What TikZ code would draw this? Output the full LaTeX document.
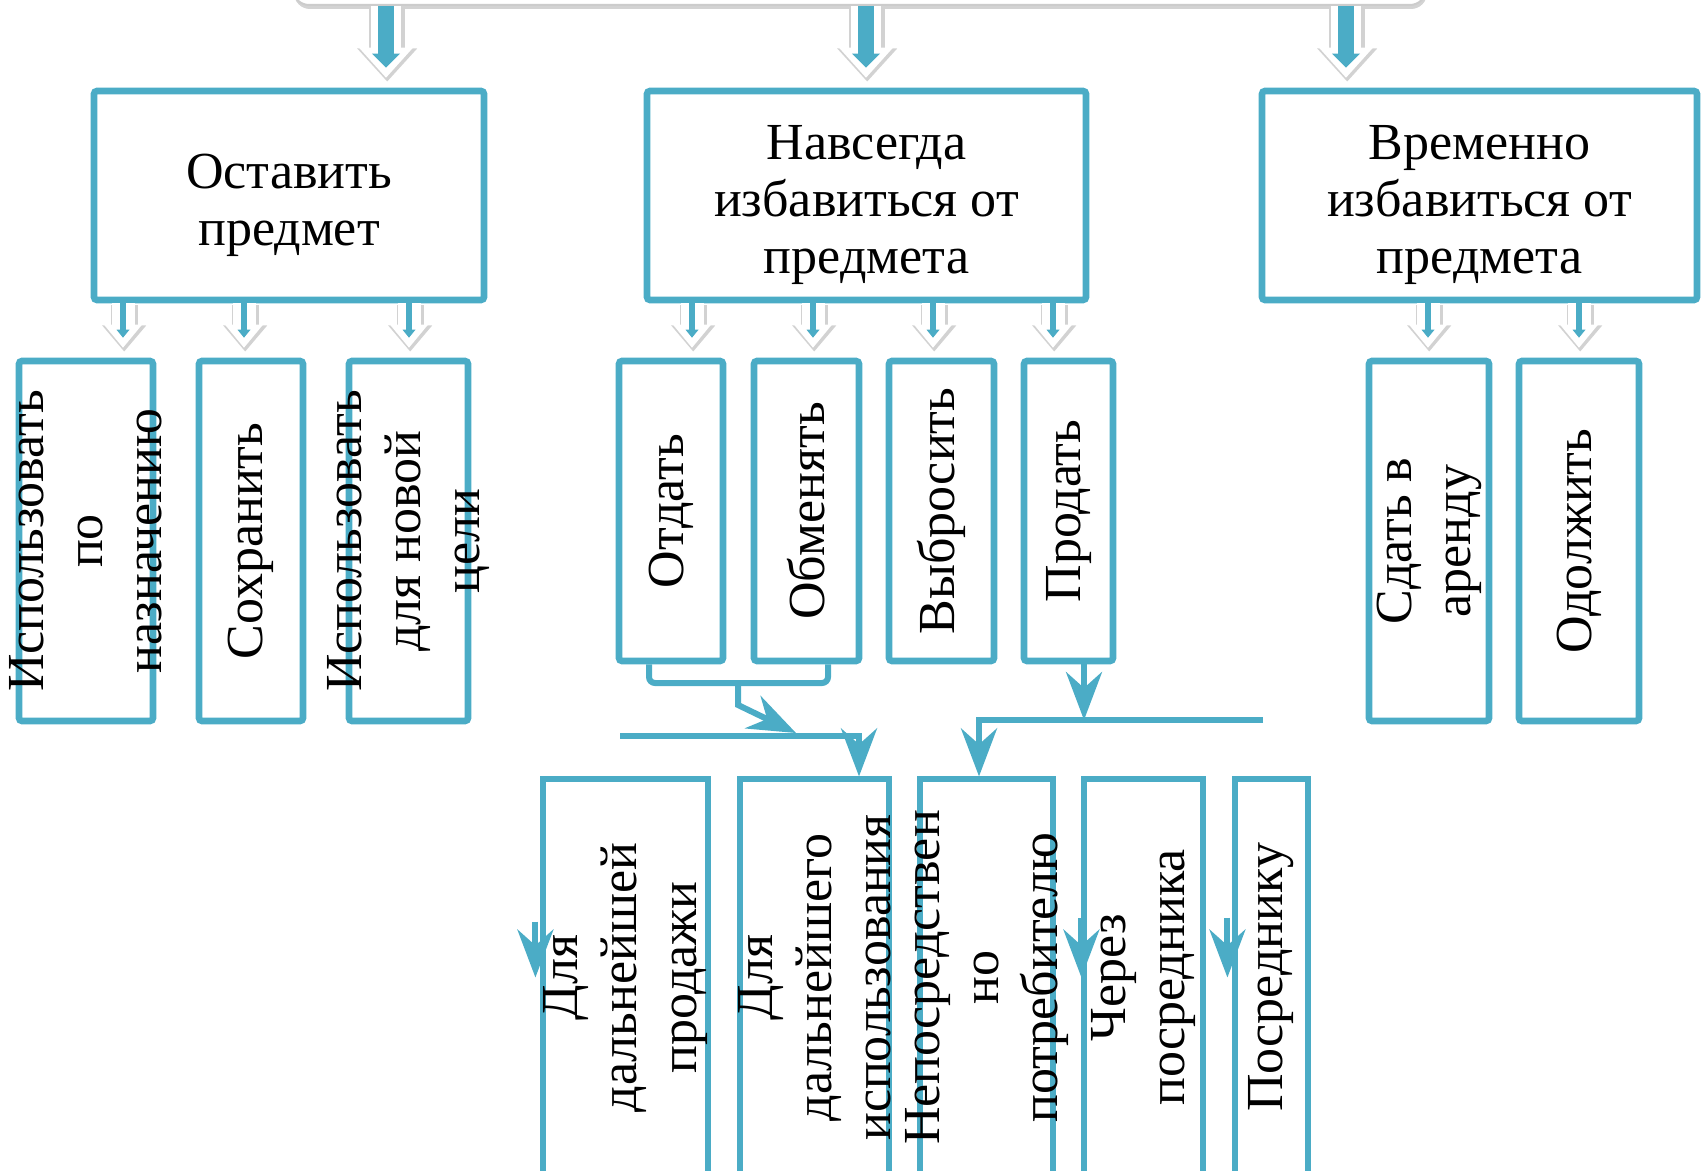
\documentclass[tikz,border=0pt]{standalone}
\usepackage{fontspec}
\setmainfont{Liberation Serif}
\usepackage{tikz}
\usetikzlibrary{positioning, fit, arrows.meta, shadows}
\definecolor{frameblue}{RGB}{75,172,198}
\newcommand{\boxfont}{\fontsize{26}{29.5}\selectfont}
\tikzset{
    topbox/.style={
        draw=gray!40, line width=1pt, fill=white, rounded corners=8pt, inner sep=0pt,
        drop shadow={opacity=0.35, shadow xshift=0.5pt, shadow yshift=-2pt}
    },
    catbox/.style={
        draw=frameblue, line width=3.3pt, rounded corners=1.5pt, inner sep=0pt
    },
    optbox/.style={
        draw=frameblue, line width=3.3pt, rounded corners=1.5pt, inner sep=0pt
    },
    waybox/.style={
        draw=frameblue, line width=2.6pt, inner sep=0pt
    },
    hlabel/.style={
        align=center, inner sep=0pt, yshift=-5pt, font=\fontsize{26}{28.5}\selectfont
    },
    vlabel/.style={
        rotate=90, align=center, inner sep=0pt, font=\boxfont
    },
    link/.style={
        draw=frameblue, line width=3pt
    },
    linkarr/.style={
        link, -{Stealth[length=24pt, width=18pt, inset=8pt]}
    },
    bigshade/.style={draw=gray!35, line width=18pt, -{Triangle[length=16.5pt, width=30pt, line width=0pt]}, shorten >=4pt},
    bigwhite/.style={draw=white, line width=15pt, -{Triangle[length=15pt, width=27pt, line width=0pt]}, shorten >=5pt},
    bigcore/.style={draw=frameblue, line width=8pt, -{Triangle[length=7pt, width=14pt, line width=0pt]}, shorten >=10pt},
    smallshade/.style={draw=gray!35, line width=13.5pt, -{Triangle[length=13pt, width=22pt, line width=0pt]}, shorten >=4pt},
    smallwhite/.style={draw=white, line width=11.5pt, -{Triangle[length=11.5pt, width=19pt, line width=0pt]}, shorten >=5pt},
    smallcore/.style={draw=frameblue, line width=3.3pt, -{Triangle[length=4pt, width=6.5pt, line width=0pt]}, shorten >=10pt}
}
% полая стрелка: #1 = big/small, #2 начало, #3 конец
\newcommand{\hollowarr}[3]{%
    \draw[#1shade, transform canvas={shift={(0.6pt,-0.9pt)}}] (#2) -- (#3);
    \draw[#1white] (#2) -- (#3);
    \draw[#1core] (#2) -- (#3);
}

\begin{document}
\begin{tikzpicture}[x=0.5pt, y=-0.5pt]
    \useasboundingbox (0,0) rectangle (1701,1171);

    % Верхний блок (виден только край)
    \node[topbox, fit={(293,-60) (1426,5)}] (top) {};

    % Первый уровень
    \node[catbox, fit={(94,91) (484,300)}] (keep) {};
    \node[catbox, fit={(647,91) (1086,300)}] (rid) {};
    \node[catbox, fit={(1262,91) (1697,300)}] (temp) {};

    \node[hlabel] (keept) at (keep) {Оставить\\предмет};
    \node[hlabel] (ridt) at (rid) {Навсегда\\избавиться от\\предмета};
    \node[hlabel] (tempt) at (temp) {Временно\\избавиться от\\предмета};

    % Второй уровень
    \node[optbox, fit={(19,361) (153,721)}] (use) {};
    \node[optbox, fit={(199,361) (303,721)}] (save) {};
    \node[optbox, fit={(349,361) (468,721)}] (reuse) {};
    \node[optbox, fit={(619,361) (723,661)}] (give) {};
    \node[optbox, fit={(754,361) (859,661)}] (swap) {};
    \node[optbox, fit={(889,361) (994,661)}] (toss) {};
    \node[optbox, fit={(1024,361) (1113,661)}] (sell) {};
    \node[optbox, fit={(1369,361) (1489,721)}] (rent) {};
    \node[optbox, fit={(1519,361) (1639,721)}] (lendout) {};

    \node[vlabel] (uset) at (use) {Использовать\\по\\назначению};
    \node[vlabel] (savet) at (save) {Сохранить};
    \node[vlabel] (reuset) at (reuse) {Использовать\\для новой\\цели};
    \node[vlabel] (givet) at (give) {Отдать};
    \node[vlabel] (swapt) at (swap) {Обменять};
    \node[vlabel] (tosst) at (toss) {Выбросить};
    \node[vlabel] (sellt) at (sell) {Продать};
    \node[vlabel] (rentt) at (rent) {Сдать в\\аренду};
    \node[vlabel] (lendoutt) at (lendout) {Одолжить};

    % Третий уровень
    \node[waybox, fit={(543,779) (708,1176)}] (resale) {};
    \node[waybox, fit={(740,779) (889,1176)}] (furtheruse) {};
    \node[waybox, fit={(920,779) (1053,1176)}] (direct) {};
    \node[waybox, fit={(1084,779) (1203,1176)}] (viaagent) {};
    \node[waybox, fit={(1235,779) (1308,1176)}] (toagent) {};

    \node[vlabel] (resalet) at (resale) {Для\\дальнейшей\\продажи};
    \node[vlabel] (furtheruset) at (furtheruse) {Для\\дальнейшего\\использования};
    \node[vlabel] (directt) at (direct) {Непосредствен\\но\\потребителю};
    \node[vlabel] (viaagentt) at (viaagent) {Через\\посредника};
    \node[vlabel] (toagentt) at (toagent) {Посреднику};

    % Полые стрелки
    \hollowarr{big}{top.south-|386,0}{keep.north-|386,0}
    \hollowarr{big}{top.south-|866,0}{rid.north-|866,0}
    \hollowarr{big}{top.south-|1346,0}{temp.north-|1346,0}

    \hollowarr{small}{keep.south-|123,0}{use.north-|123,0}
    \hollowarr{small}{keep.south-|244,0}{save.north-|244,0}
    \hollowarr{small}{keep.south-|409,0}{reuse.north-|409,0}
    \hollowarr{small}{rid.south-|692,0}{give.north-|692,0}
    \hollowarr{small}{rid.south-|813,0}{swap.north-|813,0}
    \hollowarr{small}{rid.south-|933,0}{toss.north-|933,0}
    \hollowarr{small}{rid.south-|1053,0}{sell.north-|1053,0}
    \hollowarr{small}{temp.south-|1428,0}{rent.north-|1428,0}
    \hollowarr{small}{temp.south-|1579,0}{lendout.north-|1579,0}

    % Соединительные линии
    \coordinate (split) at (738,683);
    \coordinate (kink) at (738,705);
    \coordinate (diagtip) at (796,733);
    \coordinate (hlL) at (620,736);
    \coordinate (hrL) at (979,720);
    \coordinate (hrR) at (1263,720);
    \coordinate (sellout) at ([xshift=7.75pt]sell.south);

    \draw[link, rounded corners=3pt] ([xshift=-11pt]give.south) |- (split) -| ([xshift=10.75pt]swap.south);
    \draw[linkarr] (split) -- (kink) -- (diagtip);
    \draw[linkarr] (hlL) -| (furtheruse.north-|859,0);
    \draw[linkarr] (sellout) -- (sellout|-hrL);
    \draw[linkarr] (hrR) -| (direct.north-|hrL);

    \draw[linkarr] ([shift={(-2.5pt,28pt)}]resale.west) -- ([xshift=-2.5pt]resale.west);
    \draw[linkarr] ([yshift=30pt]viaagent.west) -- (viaagent.west);
    \draw[linkarr] ([shift={(-2.5pt,30pt)}]toagent.west) -- ([xshift=-2.5pt]toagent.west);
\end{tikzpicture}
\end{document}
